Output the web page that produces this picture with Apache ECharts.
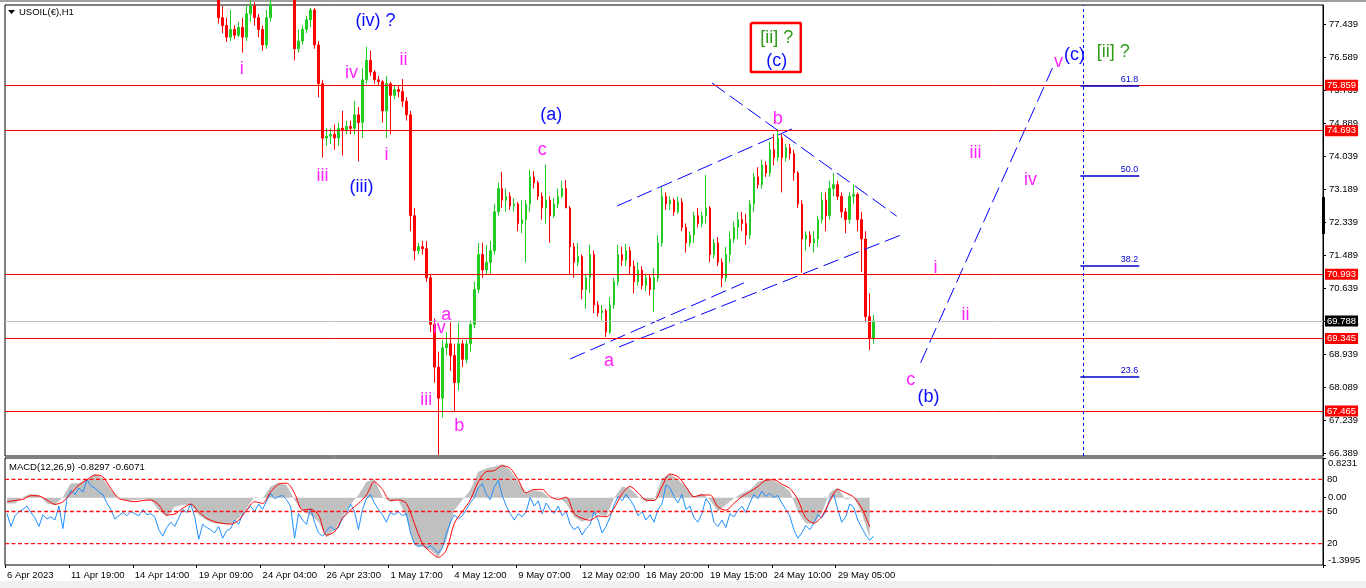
<!DOCTYPE html>
<html><head><meta charset="utf-8">
<script src="https://cdn.jsdelivr.net/npm/echarts@6/dist/echarts.min.js"></script>
<style>html,body{margin:0;padding:0;background:#fff;}#c{width:1366px;height:588px;}</style>
</head><body><div id="c"></div>
<script>
// ---------- data ----------
const timeLabels = ['6 Apr 2023','11 Apr 19:00','14 Apr 14:00','19 Apr 09:00','24 Apr 04:00','26 Apr 23:00','1 May 17:00','4 May 12:00','9 May 07:00','12 May 02:00','16 May 20:00','19 May 15:00','24 May 10:00','29 May 05:00'];
const priceTicks = [77.439,76.589,75.739,74.889,74.039,73.189,72.339,71.489,70.639,69.789,68.939,68.089,67.239,66.389];
const levelLines = [75.859,74.693,70.993,69.345,67.465];
const bidPrice = 69.788;
// [open, close, low, high] per H1 group
const candles = [
[79.0,79.2,78.8,79.4],[79.2,78.9,78.7,79.3],[78.9,79.1,78.8,79.3],[79.1,79.4,79.0,79.6],[79.4,79.3,79.1,79.6],
[79.3,79.5,79.2,79.7],[79.5,79.2,79.0,79.6],[79.2,78.9,78.8,79.3],[78.9,78.7,78.5,79.0],[78.7,79.0,78.6,79.1],
[79.0,78.8,78.6,79.1],[78.8,78.6,78.4,78.9],[78.6,78.8,78.5,79.0],[78.8,79.1,78.7,79.2],[79.1,79.5,79.0,79.6],
[79.5,79.8,79.4,80.0],[79.8,80.1,79.7,80.3],[80.1,79.9,79.8,80.3],[79.9,80.2,79.8,80.4],[80.2,80.0,79.8,80.3],
[80.0,80.4,79.9,80.5],[80.4,80.3,80.1,80.6],[80.3,80.1,79.9,80.4],[80.1,79.8,79.7,80.2],[79.8,79.6,79.4,79.9],
[79.6,79.3,79.2,79.7],[79.3,79.1,78.9,79.4],[79.1,79.2,78.9,79.4],[79.2,79.0,78.8,79.3],[79.0,79.1,78.9,79.3],
[79.1,79.0,78.8,79.2],[79.0,79.2,78.9,79.3],[79.2,79.1,78.9,79.3],[79.1,78.9,78.8,79.2],[78.9,79.1,78.8,79.2],
[79.1,79.0,78.8,79.2],[79.0,79.1,78.9,79.2],[79.1,78.8,78.6,79.2],[78.8,78.5,78.3,78.9],[78.5,78.4,78.2,78.6],
[78.4,78.6,78.3,78.7],[78.6,78.7,78.5,78.9],[78.7,78.6,78.4,78.8],[78.6,78.9,78.5,79.0],[78.9,79.1,78.8,79.2],
[79.1,79.0,78.8,79.2],[79.0,79.2,78.9,79.3],[79.2,78.8,78.6,79.3],[78.8,78.5,78.3,78.9],[78.5,78.6,78.3,78.7],
[78.6,78.4,78.2,78.7],[78.4,78.3,78.1,78.5],[78.3,78.2,78.0,78.4],
[78.2,77.6,77.45,78.3],[77.6,77.4,77.2,77.9],[77.4,77.1,76.98,77.6],[77.1,77.3,77.0,77.8],[77.3,77.15,77.05,77.4],
[77.15,77.35,77.1,77.5],[77.35,77.1,76.7,77.6],[77.1,77.7,77.0,77.95],[77.7,77.9,77.5,78.1],[77.9,77.6,77.4,78.0],
[77.6,77.3,77.1,77.7],[77.3,76.9,76.75,77.4],[76.9,77.6,76.8,77.8],[77.6,77.95,77.5,78.2],
[78.0,78.3,77.98,78.5],[78.3,78.6,78.2,78.8],[78.6,78.4,78.2,78.7],[78.4,78.5,78.2,78.7],[78.5,78.1,78.0,78.6],
[78.1,76.8,76.5,78.2],[76.8,77.0,76.7,77.3],[77.0,77.3,76.9,77.4],[77.3,77.55,77.2,77.65],[77.55,77.8,77.35,77.85],
[77.8,76.9,76.8,77.85],[76.9,75.9,75.55,77.0],[75.9,74.5,74.0,76.0],[74.5,74.55,74.3,74.75],[74.55,74.6,74.35,74.75],
[74.6,74.5,74.2,74.85],[74.5,74.75,74.3,74.9],[74.75,74.7,74.05,75.2],[74.7,74.8,74.6,74.95],[74.8,74.75,74.6,74.95],
[74.75,75.1,74.6,75.45],[75.1,74.9,73.9,75.3],[74.9,76.0,74.5,76.3],[76.0,76.5,75.9,76.85],[76.5,76.2,76.1,76.75],
[76.2,76.0,75.9,76.25],[76.0,75.95,75.85,76.1],[75.95,75.2,74.9,76.0],[75.2,75.9,74.5,76.1],[75.9,75.6,74.6,75.95],
[75.6,75.75,75.5,75.85],[75.75,75.7,75.55,75.85],[75.7,75.45,75.3,76.02],[75.45,75.1,74.95,75.55],[75.1,72.5,72.1,75.2],
[72.5,71.6,71.35,72.7],[71.6,71.7,71.5,71.8],[71.7,71.65,71.5,71.85],[71.65,70.9,70.8,71.85],[70.9,69.7,69.5,71.0],
[69.7,68.6,68.2,69.85],[68.6,67.8,66.34,69.0],[67.8,69.1,67.3,69.3],[69.1,69.2,68.9,69.5],[69.2,68.9,68.5,69.75],
[68.9,68.2,67.45,69.2],[68.2,69.2,68.0,69.75],[69.2,68.8,68.6,69.3],[68.8,69.2,68.7,69.3],[69.2,69.7,69.0,69.8],
[69.7,70.6,69.6,70.8],[70.6,71.5,70.5,71.8],[71.5,71.1,70.9,71.8],[71.1,71.3,71.0,71.75],[71.3,71.6,71.0,71.85],
[71.6,72.6,71.5,72.8],[72.6,73.2,72.5,73.35],[73.2,72.9,72.7,73.63],[72.9,73.0,72.6,73.2],[73.0,72.75,72.65,73.1],
[72.75,72.8,72.6,72.95],[72.8,72.3,72.1,72.85],[72.3,72.4,72.05,72.9],[72.4,72.8,71.3,72.9],[72.8,73.5,72.6,73.68],
[73.5,73.35,73.2,73.65],[73.35,73.0,72.9,73.4],[73.0,72.7,72.4,73.1],[72.7,72.9,72.3,73.81],[72.9,72.5,71.8,73.0],
[72.5,72.8,72.45,72.95],[72.8,73.0,72.7,73.2],[73.0,73.2,72.95,73.4],[73.2,72.7,72.7,73.42],[72.7,71.7,71.0,72.75],
[71.7,71.3,70.9,71.8],[71.3,71.45,71.2,71.8],[71.45,70.6,70.35,71.5],[70.6,70.9,70.1,71.0],[70.9,71.5,70.5,71.75],
[71.5,70.2,69.99,71.6],[70.2,70.0,69.9,70.3],[70.0,70.05,69.8,70.2],[70.05,69.5,69.38,70.1],[69.5,70.2,69.45,70.4],
[70.2,70.8,70.1,70.9],[70.8,71.5,70.7,71.75],[71.5,71.35,71.2,71.7],[71.35,71.6,71.2,71.78],[71.6,71.2,71.0,71.7],
[71.2,70.8,70.5,71.35],[70.8,71.1,70.7,71.3],[71.1,70.7,70.6,71.2],[70.7,70.9,70.55,71.0],[70.9,70.6,70.45,71.0],
[70.6,70.9,70.02,71.15],[70.9,71.8,70.8,72.0],[71.8,73.0,71.7,73.24],[73.0,72.8,72.65,73.1],[72.8,72.9,72.65,73.0],
[72.9,72.6,72.5,72.95],[72.6,72.85,72.55,73.0],[72.85,72.2,72.1,72.95],[72.2,71.8,71.55,72.3],[71.8,72.0,71.7,72.1],
[72.0,72.5,71.8,72.6],[72.5,72.3,72.2,72.7],[72.3,72.5,72.2,72.6],[72.5,72.7,72.3,73.55],[72.7,71.5,71.3,72.75],
[71.5,71.8,71.4,71.9],[71.8,71.3,71.2,71.95],[71.3,70.9,70.66,71.4],[70.9,71.5,70.8,71.7],[71.5,71.9,71.3,72.1],
[71.9,72.2,71.8,72.35],[72.2,72.4,71.9,72.6],[72.4,72.3,72.1,72.6],[72.3,72.0,71.75,72.55],[72.0,72.8,71.9,72.9],
[72.8,73.5,72.6,73.6],[73.5,73.3,73.2,73.75],[73.3,73.8,73.2,73.95],[73.8,73.6,73.5,73.9],[73.6,74.2,73.5,74.4],
[74.2,74.0,73.8,74.6],[74.0,74.5,73.9,74.72],[74.5,74.0,73.1,74.6],[74.0,74.25,73.9,74.35],[74.25,74.1,73.95,74.35],
[74.1,73.6,73.4,74.2],[73.6,72.8,72.7,73.65],[72.8,71.9,71.03,72.9],[71.9,72.0,71.6,72.1],[72.0,71.8,71.7,72.1],
[71.8,71.9,71.55,72.1],[71.9,72.4,71.7,72.5],[72.4,72.9,72.3,73.1],[72.9,72.5,72.1,73.1],[72.5,73.2,72.4,73.4],
[73.2,73.3,73.0,73.6],[73.3,73.0,72.9,73.4],[73.0,72.6,72.45,73.1],[72.6,72.4,72.05,72.7],[72.4,73.0,72.3,73.1],
[73.0,73.05,72.8,73.3],[73.05,72.4,72.1,73.1],[72.4,71.9,71.05,72.6],[71.9,69.9,69.75,72.1],[69.9,69.35,69.04,70.5],
[69.35,69.79,69.2,69.95]
];
// MACD main (every 2nd bar)
const macd = [-0.12,-0.12,0.02,0.08,0.055,-0.12,-0.154,0.02,0.30,0.30,
 0.38,0.49,0.40,0.16,-0.015,-0.06,-0.05,-0.035,-0.05,-0.26,
 -0.40,-0.19,-0.15,-0.15,-0.36,-0.47,-0.535,-0.55,-0.55,-0.43,
 -0.22,0.02,-0.015,0.23,0.31,0.26,-0.05,-0.29,-0.36,-0.50,
 -0.83,-0.67,-0.40,-0.15,0.055,0.33,0.38,0.02,-0.085,-0.05,
 -0.40,-0.99,-1.02,-1.09,-1.24,-0.88,-0.26,-0.05,0.16,0.54,
 0.61,0.64,0.70,0.57,0.33,0.09,0.16,0.12,-0.015,0.02,
 -0.12,-0.40,-0.50,-0.43,-0.33,-0.40,-0.015,0.23,0.19,0.02,
 -0.085,-0.05,0.40,0.50,0.37,0.23,0.02,0.09,-0.05,-0.29,
 -0.15,-0.015,0.09,0.16,0.33,0.37,0.35,0.26,0.13,-0.29,
 -0.53,-0.55,-0.32,0.10,0.21,-0.04,0.01,-0.32,-0.83];
// MACD signal (every 2nd bar)
const signal = [-0.085,-0.06,-0.035,0.04,0.035,-0.05,-0.14,-0.085,0.09,0.26,
 0.37,0.47,0.435,0.19,-0.015,-0.06,-0.085,-0.06,-0.05,-0.15,
 -0.36,-0.34,-0.22,-0.135,-0.29,-0.43,-0.50,-0.535,-0.55,-0.47,
 -0.26,-0.085,-0.12,0.12,0.28,0.30,0.09,-0.26,-0.24,-0.36,
 -0.78,-0.71,-0.43,-0.26,-0.12,0.055,0.33,0.17,-0.06,-0.05,
 -0.12,-0.535,-0.95,-1.13,-1.24,-1.09,-0.535,-0.29,-0.05,0.33,
 0.54,0.56,0.66,0.61,0.37,0.10,0.17,0.17,0.02,-0.035,
 0.01,-0.33,-0.43,-0.47,-0.38,-0.40,-0.22,0.08,0.23,0.10,
 -0.05,-0.06,0.23,0.49,0.435,0.23,0.02,0.055,0.055,-0.19,
 -0.26,-0.12,0.02,0.12,0.23,0.36,0.37,0.28,0.19,-0.04,
 -0.42,-0.53,-0.39,-0.08,0.17,0.10,0.01,-0.22,-0.61];
// oscillator (0..100), one per bar
const osc = [48,36,46,50,52,55,49,44,36,47,43,45,42,55,34,62,70,66,72,68,
 80,74,72,68,66,58,52,43,46,49,46,50,48,46,52,47,48,45,33,27,
 35,40,36,44,52,49,57,45,24,38,35,33,30,36,25,32,34,42,38,48,
 51,55,50,57,52,60,67,62,64,65,61,55,25,48,42,38,53,40,30,27,
 32,36,33,35,44,48,57,50,33,52,62,66,58,52,47,40,49,47,50,46,
 48,30,20,17,19,16,18,15,11,16,29,40,47,43,46,52,58,63,72,76,
 66,61,73,79,65,55,48,42,48,45,50,63,55,60,48,58,52,48,55,46,
 50,38,33,36,28,34,38,50,42,30,36,45,56,64,60,66,61,55,46,50,
 42,47,40,52,57,75,72,64,58,66,52,55,44,40,48,62,57,40,36,42,
 35,48,45,51,55,49,58,66,62,69,64,67,63,65,58,52,46,33,25,30,
 37,33,39,47,44,50,62,66,52,40,45,57,54,42,35,28,23,27];
const oscLevels = [80,50,20];
const macdTicks = [-1.3995,0,0.8231];
const fibNames = ['61.8','50.0','38.2','23.6'];
const fibPrices = [75.86,73.54,71.223,68.364];
const fibSpan = [268.75,283.5];
const trendLines = [
 [[152.75,72.75],[196.5,74.735]],
 [[141,68.81],[184.5,70.77]],
 [[153.25,69.12],[223.75,72.0]],
 [[176.5,75.92],[222.75,72.49]],
 [[228.75,68.71],[261.75,76.305]]
];
const vLineBar = 269.5;
const magentaLabels = [['i',58.75,76.28],['iv',86.25,76.18],['ii',99.25,76.51],['iii',79,73.52],['i',95,74.07],
 ['iii',105,67.75],['iv',108.25,69.61],['a',110,69.94],['b',113.25,67.08],['c',134,74.19],['a',150.75,68.76],
 ['b',193,74.99],['c',226.25,68.27],['i',232.5,71.15],['ii',240,69.94],['iii',242.5,74.12],['iv',256.25,73.42],['v',263.25,76.46]];
const blueLabels = [['(iv) ?',92.25,77.52],['(iii)',88.75,73.24],['(a)',136.25,75.09],['(c)',192.75,76.49],['(b)',230.75,67.83],['(c)',267.25,76.64]];
const greenLabels = [['[ii] ?',192.75,77.08],['[ii] ?',277,76.72]];
const boxCorners = [[186.25,77.465],[198.75,76.203]];

// ---------- chart ----------
const N = 330;
const cats = Array.from({length:N}, (_, i) => (i % 16 === 0 && timeLabels[i / 16]) ? timeLabels[i / 16] : '');
const font = '"Liberation Sans", Arial, sans-serif';
const FS = 9.5;
const chart = echarts.init(document.getElementById('c'), null, {renderer:'canvas'});

function textSeries(arr, color) {
  return {
    type:'scatter', xAxisIndex:1, yAxisIndex:0, symbolSize:1, itemStyle:{color:'rgba(0,0,0,0)', opacity:1}, silent:true, z:6,
    data: arr.map(a => [a[1], a[2], a[0]]),
    label:{show:true, position:'inside', formatter:p => p.value[2], color:color, fontSize:18, fontFamily:font, opacity:1, textBorderWidth:0}
  };
}

const lineSeries = trendLines.map((ln, k) => ({
  type:'line', xAxisIndex:1, yAxisIndex:0, data:ln, symbol:'none', silent:true, z:4,
  lineStyle:{color:'#0000ff', width:1, type:[16,6]}
}));

const fibMark = fibPrices.map((p, k) => {
  const lab = {show:true, position:'insideEndTop', formatter:fibNames[k], color:'#0000cc', fontSize:9, fontFamily:font, distance:1};
  const ls = {color:'#0000cc', width:1.5, type:'solid'};
  return [{coord:[fibSpan[0], p], lineStyle:ls, label:lab}, {coord:[fibSpan[1], p], lineStyle:ls, label:lab}];
});
lineSeries[0].markLine = {
  symbol:['none','none'], silent:true, animation:false,
  data: [{xAxis:vLineBar, lineStyle:{color:'#0000ff', width:1, type:[3,3]}, label:{show:false}}].concat(fibMark)
};

// level lines of the oscillator (80/50/20), drawn across the panel
const oscLevelSeries = oscLevels.map(v => ({
  type:'line', xAxisIndex:3, yAxisIndex:2, data:[[-0.5, v], [N - 0.5, v]], symbol:'none', silent:true, z:8,
  color:'#ff0000', itemStyle:{color:'#ff0000'},
  lineStyle:{color:'#ff1010', width:1.3, type:[4,2.5], cap:'butt'}
}));

function tagLabel(v, bg) {
  return {show:true, position:'end', distance:2, formatter:v.toFixed(3), color:'#fff', backgroundColor:bg,
    padding:[1,2,0,2], fontSize:FS, fontFamily:font};
}
const noZero = {onZero:false};

const option = {
  animation:false,
  backgroundColor:'#ffffff',
  textStyle:{fontFamily:font},
  title:[
    {text:'USOIL(€),H1', left:19, top:7, padding:0, textStyle:{fontSize:FS, fontWeight:'normal', color:'#000', fontFamily:font}},
    {text:'MACD(12,26,9) -0.8297 -0.6071', left:9, top:462, padding:0, textStyle:{fontSize:FS, fontWeight:'normal', color:'#000', fontFamily:font}}
  ],
  graphic:[
    {type:'rect', shape:{x:0, y:0, width:1366, height:2}, style:{fill:'#a0a0a0'}, silent:true},
    {type:'rect', shape:{x:0, y:581, width:1366, height:7}, style:{fill:'#f0f0f0'}, silent:true},
    {type:'rect', shape:{x:1322, y:197, width:3, height:37}, style:{fill:'#000'}, silent:true, z:100},
    {type:'polygon', shape:{points:[[8,10],[15,10],[11.5,14]]}, style:{fill:'#000'}, silent:true}
  ],
  grid:[
    {left:5, top:5, width:1318, height:451, show:true, borderColor:'#000', borderWidth:1, backgroundColor:'#fff'},
    {left:5, top:458, width:1318, height:107, show:true, borderColor:'#000', borderWidth:1, backgroundColor:'#fff'}
  ],
  xAxis:[
    {type:'category', gridIndex:0, data:cats, boundaryGap:true, show:false, axisLine:noZero},
    {type:'value', gridIndex:0, min:-0.5, max:N-0.5, show:false, axisLine:noZero},
    {type:'category', gridIndex:1, data:cats, boundaryGap:true,
      axisLine:{show:false, onZero:false},
      axisTick:{show:true, interval:(i, v) => v !== '', length:3, lineStyle:{color:'#000'}},
      axisLabel:{interval:(i, v) => v !== '', align:'left', margin:5, fontSize:FS, color:'#000', fontFamily:font},
      splitLine:{show:false}},
    {type:'value', gridIndex:1, min:-0.5, max:N-0.5, show:false, axisLine:noZero}
  ],
  yAxis:[
    {type:'value', gridIndex:0, position:'right', min:66.31, max:77.928, scale:true,
      axisLine:{show:true, onZero:false, lineStyle:{color:'#000'}},
      axisTick:{show:true, length:3, customValues:priceTicks, lineStyle:{color:'#000'}},
      axisLabel:{customValues:priceTicks, formatter:v => v.toFixed(3), fontSize:FS, color:'#000', margin:6, fontFamily:font},
      splitLine:{show:false}},
    {type:'value', gridIndex:1, position:'right', min:-1.3995, max:0.8231, scale:true,
      axisLine:{show:true, onZero:false, lineStyle:{color:'#000'}},
      axisTick:{show:true, length:3, customValues:macdTicks, lineStyle:{color:'#000'}},
      axisLabel:{customValues:macdTicks, formatter:v => v === 0 ? '0.00' : v.toFixed(4), verticalAlignMinLabel:'bottom', verticalAlignMaxLabel:'top',
        fontSize:FS, color:'#000', margin:5, fontFamily:font},
      splitLine:{show:false}},
    {type:'value', gridIndex:1, position:'right', min:0, max:100,
      axisLine:{show:false, onZero:false}, axisTick:{show:false},
      axisLabel:{customValues:oscLevels, fontSize:FS, color:'#000', margin:4, fontFamily:font},
      splitLine:{show:false}}
  ],
  series:[
    {type:'candlestick', xAxisIndex:0, yAxisIndex:0, data:candles, barWidth:2, clip:true, z:3,
      itemStyle:{color:'#22cc22', color0:'#ff0000', borderColor:'#22cc22', borderColor0:'#ff0000', borderWidth:1},
      markLine:{symbol:['none','none'], silent:true, animation:false,
        data: levelLines.map(v => ({yAxis:v, lineStyle:{color:'#ff0000', width:1, type:'solid'}, label:tagLabel(v, '#ff0000')}))
          .concat([{yAxis:bidPrice, lineStyle:{color:'#c0c0c0', width:1, type:'solid'}, label:tagLabel(bidPrice, '#000')}])}},
    ...lineSeries,
    {type:'line', xAxisIndex:1, yAxisIndex:0, symbol:'none', silent:true, z:5,
      data:[[boxCorners[0][0], boxCorners[0][1]], [boxCorners[1][0], boxCorners[0][1]], [boxCorners[1][0], boxCorners[1][1]],
            [boxCorners[0][0], boxCorners[1][1]], [boxCorners[0][0], boxCorners[0][1]]],
      lineStyle:{color:'#ff0000', width:2.5}},
    textSeries(magentaLabels, '#ff22ff'),
    textSeries(blueLabels, '#0a0aff'),
    textSeries(greenLabels, '#2f9a1a'),
    // MACD panel
    {type:'line', xAxisIndex:3, yAxisIndex:1, data:macd.map((v, k) => [2 * k, v]), symbol:'none', silent:true, z:1,
      lineStyle:{width:0, color:'#c0c0c0'}, areaStyle:{color:'#c0c0c0', opacity:1}},
    {type:'line', xAxisIndex:3, yAxisIndex:2, data:osc.map((v, i) => [i, v]), symbol:'none', silent:true, z:3,
      lineStyle:{width:1, color:'#1e90ff'}},
    {type:'line', xAxisIndex:3, yAxisIndex:1, data:signal.map((v, k) => [2 * k, v]), symbol:'none', silent:true, z:4, smooth:0.3,
      lineStyle:{width:1, color:'#ff0000'}},
    ...oscLevelSeries
  ]
};
chart.setOption(option);
</script>
</body></html>
